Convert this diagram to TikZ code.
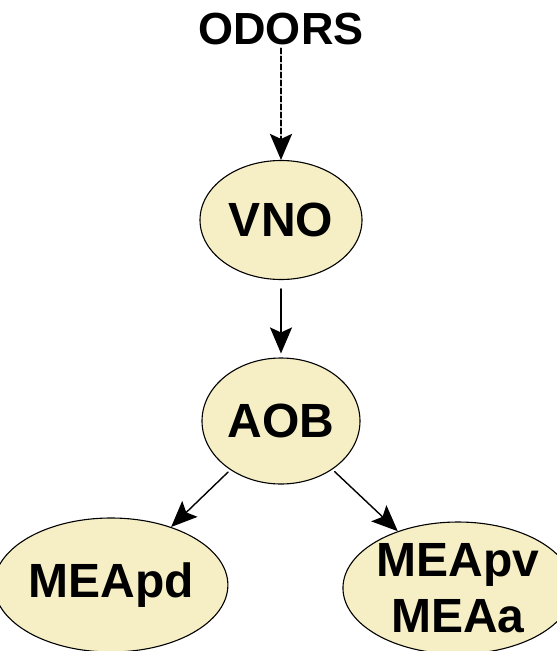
\documentclass[tikz,border=0pt]{standalone}
\usepackage{fontspec}
\setmainfont{Liberation Sans}
\usetikzlibrary{shapes.geometric,arrows.meta}
\definecolor{cream}{RGB}{246,239,197}
\tikzset{
  region/.style={ellipse,draw,line width=1.1pt,fill=cream,inner sep=0pt,font=\fontsize{48}{56}\selectfont\bfseries,align=center},
  link/.style={line width=1.8pt,-{Stealth[length=26pt,width=22pt,inset=5pt]}}
}

\begin{document}
\begin{tikzpicture}[x=1pt,y=-1pt,line cap=round,line join=round]
\useasboundingbox (0,0) rectangle (557,651);
\node[font=\fontsize{45}{50}\selectfont\bfseries] (odors) at (281,29) {ODORS};
\node[region,minimum width=162,minimum height=119] (vno) at (281,220) {VNO};
\node[region,minimum width=158,minimum height=126] (aob) at (281,421) {AOB};
\node[region,minimum width=206,minimum height=134] (meapd) at (111,585) {MEApd};
\node[region,minimum width=196,minimum height=132] (meapv) at (458,588) {MEApv\\MEAa};
\draw[link,line width=2.4pt,dash pattern=on 5pt off 3pt] (odors) -- (vno);
\draw[link,shorten <=9pt,shorten >=4pt] (vno) -- (aob);
\draw[link,line width=1.4pt,shorten <=3pt] (aob) -- (meapd);
\draw[link,line width=1.4pt,shorten <=3pt] (aob) -- (meapv);
\end{tikzpicture}
\end{document}
